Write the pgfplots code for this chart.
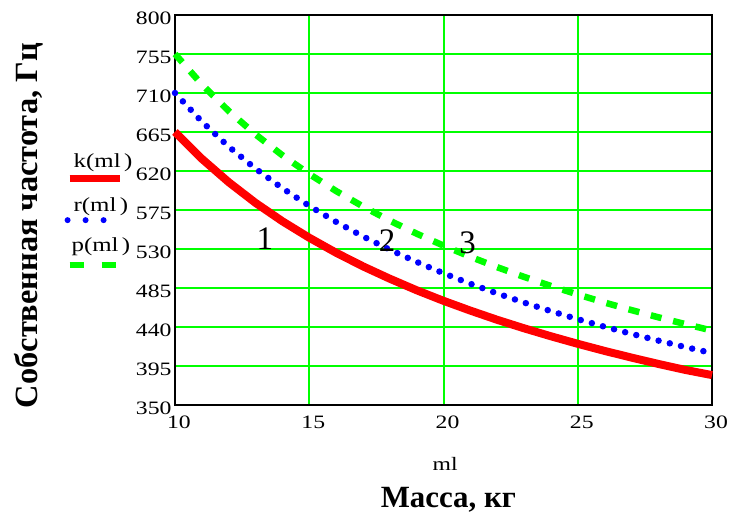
\documentclass[border=0pt]{standalone}
\usepackage{fontspec}
\setmainfont{Liberation Serif}
\newfontfamily\mfont[FakeStretch=1.25]{Liberation Serif}
\usepackage{pgfplots}
\pgfplotsset{compat=1.18}
\definecolor{mgreen}{RGB}{0,255,0}
\definecolor{mred}{RGB}{255,0,0}
\definecolor{mblue}{RGB}{0,0,255}

\begin{document}
\begin{tikzpicture}[x=1bp,y=1bp]
% invisible frame to fix page size (732 x 519 px)
\path (-175,-114) rectangle (557,405);
\begin{axis}[
    at={(0,0)}, anchor=origin,
    scale only axis,
    width=537bp, height=390bp,
    xmin=10, xmax=30,
    ymin=350, ymax=800,
    xtick={10,15,20,25,30},
    ytick={350,395,440,485,530,575,620,665,710,755,800},
    grid=major,
    major grid style={mgreen, line width=2bp},
    axis line style={black, line width=2bp},
    tick style={draw=none},
    /pgf/number format/assume math mode=true,
    ticklabel style={font=\mfont\fontsize{19}{21}\selectfont},
    yticklabel style={yshift=-3bp},
    xticklabel style={yshift=-7bp, xshift=4bp},
    clip=false,
]
% k(ml)
\addplot[mred, line width=8bp] coordinates {
 (10,665.0) (11,634.1) (12,607.1) (13,583.2) (14,562.0) (15,543.0)
 (16,525.7) (17,510.0) (18,495.7) (19,482.4) (20,470.2) (21,458.9)
 (22,448.3) (23,438.5) (24,429.3) (25,420.6) (26,412.4) (27,404.7)
 (28,397.4) (29,390.5) (30,384.5)
};
% r(ml)
\addplot[mblue, line width=6.5bp, line cap=round, dash pattern=on 0bp off 11.5bp] coordinates {
 (10,710.0) (11,677.0) (12,648.1) (13,622.7) (14,600.1) (15,579.7)
 (16,561.3) (17,544.5) (18,529.2) (19,515.1) (20,502.0) (21,489.9)
 (22,478.7) (23,468.2) (24,458.3) (25,449.0) (26,440.3) (27,432.1)
 (28,424.3) (29,416.9) (30,409.9)
};
% p(ml)
\addplot[mgreen, line width=6.5bp, dash pattern=on 11bp off 12bp] coordinates {
 (10,755.0) (11,719.9) (12,689.2) (13,662.2) (14,638.1) (15,616.5)
 (16,596.9) (17,579.1) (18,562.7) (19,547.7) (20,533.9) (21,521.0)
 (22,509.0) (23,497.8) (24,487.4) (25,477.5) (26,468.2) (27,459.5)
 (28,451.2) (29,443.4) (30,435.9)
};

% curve numbers
\node[font=\fontsize{33}{35}\selectfont] at (axis cs:13.35,542) {1};
\node[font=\fontsize{33}{35}\selectfont] at (axis cs:17.9,540) {2};
\node[font=\fontsize{33}{35}\selectfont] at (axis cs:20.9,537) {3};

% legend
\node[font=\mfont\fontsize{20}{22}\selectfont] at (rel axis cs:-0.134,0.621) {k(ml\,)};
\draw[mred, line width=7bp] (rel axis cs:-0.196,0.582) -- (rel axis cs:-0.102,0.582);
\node[font=\mfont\fontsize{20}{22}\selectfont] at (rel axis cs:-0.138,0.508) {r(ml\,)};
\draw[mblue, line width=6bp, line cap=round, dash pattern=on 0bp off 18bp] (rel axis cs:-0.200,0.474) -- (rel axis cs:-0.120,0.474);
\node[font=\mfont\fontsize{20}{22}\selectfont] at (rel axis cs:-0.138,0.405) {p(ml\,)};
\draw[mgreen, line width=6bp, dash pattern=on 14bp off 18bp] (rel axis cs:-0.196,0.359) -- (rel axis cs:-0.108,0.359);

% axis texts
\node[font=\mfont\fontsize{19}{21}\selectfont] at (rel axis cs:0.503,-0.150) {ml};
\node[font=\bfseries\fontsize{31}{33}\selectfont] at (rel axis cs:0.509,-0.244) {Масса, кг};
\node[font=\bfseries\fontsize{32.5}{34}\selectfont, rotate=90] at (rel axis cs:-0.272,0.46) {Собственная частота, Гц};
\end{axis}
\end{tikzpicture}
\end{document}
